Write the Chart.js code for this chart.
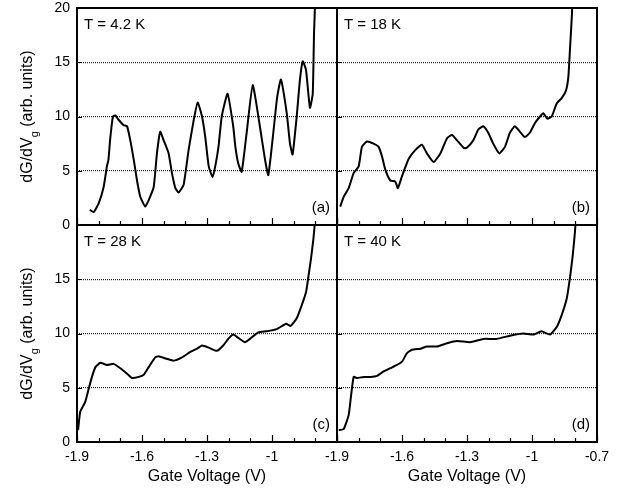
<!DOCTYPE html>
<html>
<head>
<meta charset="utf-8">
<script src="https://cdn.jsdelivr.net/npm/chart.js@4.4.1/dist/chart.umd.min.js"></script>
<style>
  html, body { margin: 0; padding: 0; background: #fff; }
  #wrap { position: relative; width: 623px; height: 489px; }
  #wrap canvas { position: absolute; left: 0; top: 0; }
</style>
</head>
<body>
<div id="wrap">
  <canvas id="panelA" width="623" height="489"></canvas>
  <canvas id="panelB" width="623" height="489"></canvas>
  <canvas id="panelC" width="623" height="489"></canvas>
  <canvas id="panelD" width="623" height="489"></canvas>
</div>
<script>
// gate voltage (V) and dG/dVg (arb. units)
const voltsA = [-1.841, -1.823, -1.800, -1.777, -1.762, -1.755, -1.746, -1.734, -1.723, -1.708, -1.685, -1.669,
  -1.654, -1.638, -1.623, -1.608, -1.585, -1.569, -1.546, -1.531, -1.516, -1.500, -1.477, -1.462, -1.446, -1.431,
  -1.408, -1.385, -1.361, -1.343, -1.323, -1.308, -1.292, -1.274, -1.262, -1.247, -1.232, -1.205, -1.179, -1.169,
  -1.156, -1.140, -1.117, -1.089, -1.056, -1.032, -1.017, -0.994, -0.976, -0.959, -0.932, -0.917, -0.905, -0.886,
  -0.871, -0.858, -0.843, -0.825, -0.812, -0.806, -0.800];
const dGA = [1.4, 1.2, 2.0, 3.5, 5.4, 6.0, 8.1, 10.0, 10.1, 9.7, 9.2, 9.1,
  7.8, 6.0, 4.1, 2.6, 1.7, 2.3, 3.5, 6.6, 8.6, 7.8, 6.6, 4.8, 3.4, 3.0,
  3.7, 6.9, 9.7, 11.3, 10.0, 8.1, 5.4, 4.4, 5.4, 7.2, 10.0, 12.1, 9.1, 7.2,
  5.7, 4.9, 8.5, 12.9, 9.1, 6.0, 4.6, 8.5, 11.8, 13.4, 10.3, 7.5, 6.5, 10.0,
  13.4, 15.1, 14.3, 10.8, 12.1, 17.7, 21];

const voltsB = [-1.885, -1.869, -1.846, -1.823, -1.800, -1.785, -1.762, -1.731, -1.708, -1.692, -1.677, -1.654,
  -1.631, -1.619, -1.600, -1.569, -1.539, -1.508, -1.485, -1.454, -1.423, -1.392, -1.369, -1.346, -1.315, -1.302,
  -1.271, -1.248, -1.225, -1.202, -1.179, -1.151, -1.125, -1.102, -1.079, -1.056, -1.033, -1.010, -0.986, -0.963,
  -0.948, -0.929, -0.909, -0.886, -0.863, -0.843, -0.832, -0.825, -0.817, -0.812];
const dGB = [1.7, 2.6, 3.4, 4.8, 5.4, 7.2, 7.7, 7.5, 7.2, 6.3, 5.1, 4.1,
  4.0, 3.4, 4.5, 6.1, 6.9, 7.4, 6.6, 5.8, 6.6, 8.0, 8.3, 7.8, 7.1, 7.1,
  7.8, 8.8, 9.1, 8.5, 7.5, 6.6, 7.2, 8.5, 9.1, 8.6, 8.1, 8.5, 9.4, 10.0,
  10.3, 9.8, 10.0, 11.2, 11.7, 12.4, 13.7, 16.1, 18.9, 21];

const voltsC = [-1.895, -1.885, -1.862, -1.846, -1.831, -1.815, -1.792, -1.762, -1.731, -1.700, -1.669, -1.646,
  -1.615, -1.592, -1.569, -1.539, -1.523, -1.492, -1.454, -1.415, -1.377, -1.346, -1.323, -1.292, -1.255, -1.225,
  -1.202, -1.179, -1.156, -1.125, -1.102, -1.063, -1.025, -0.978, -0.935, -0.914, -0.886, -0.863, -0.843, -0.833,
  -0.820, -0.809, -0.803, -0.800];
const dGC = [1.1, 2.8, 3.7, 4.9, 6.0, 6.9, 7.3, 7.1, 7.2, 6.8, 6.3, 5.9,
  6.0, 6.2, 6.9, 7.8, 7.9, 7.7, 7.5, 7.8, 8.3, 8.6, 8.9, 8.7, 8.4, 8.9,
  9.5, 9.9, 9.6, 9.2, 9.5, 10.1, 10.2, 10.4, 10.9, 10.7, 11.4, 12.6, 13.8, 15.1,
  16.9, 18.7, 20, 21];

const voltsD = [-1.892, -1.869, -1.846, -1.835, -1.823, -1.808, -1.777, -1.746, -1.715, -1.685, -1.654, -1.623,
  -1.600, -1.577, -1.554, -1.515, -1.485, -1.439, -1.392, -1.346, -1.286, -1.225, -1.163, -1.102, -1.040, -0.994,
  -0.956, -0.917, -0.886, -0.863, -0.840, -0.825, -0.812, -0.802, -0.796];
const dGD = [1.1, 1.2, 2.5, 4.3, 6.0, 5.9, 6.0, 6.0, 6.1, 6.5, 6.8, 7.1,
  7.4, 8.2, 8.5, 8.6, 8.8, 8.8, 9.1, 9.3, 9.2, 9.5, 9.5, 9.8, 10.0, 9.9,
  10.2, 9.9, 10.6, 11.7, 13.2, 15.1, 17.2, 19.3, 21];

// axis ticks
const xTickVals = [-1.9, -1.6, -1.3, -1.0, -0.7];
const xTickText = ['-1.9', '-1.6', '-1.3', '-1', '-0.7'];
const xMinorTicks = [-1.9, -1.8, -1.7, -1.6, -1.5, -1.4, -1.3, -1.2, -1.1, -1.0, -0.9, -0.8, -0.7];
const yTickVals = [0, 5, 10, 15, 20];
const yGridVals = [5, 10, 15];

const temps = ['T = 4.2 K', 'T = 18 K', 'T = 28 K', 'T = 40 K'];
const tags = ['(a)', '(b)', '(c)', '(d)'];

const FONT = '"Liberation Sans", Arial, Helvetica, sans-serif';
const W = 623, H = 489;

// frame, inward ticks, in-panel texts and the y title with its subscript
const panelDecor = {
  id: 'panelDecor',
  afterDraw(chart, args, opts) {
    const { ctx, chartArea: a, scales } = chart;
    ctx.save();
    ctx.setLineDash([]);
    ctx.strokeStyle = '#000';
    ctx.lineWidth = 1.2;
    ctx.beginPath();
    xMinorTicks.forEach((v, i) => {
      const px = Math.round(scales.x.getPixelForValue(v)) + 0.5;
      const len = i % 3 === 0 ? 7 : 4;
      ctx.moveTo(px, a.bottom);
      ctx.lineTo(px, a.bottom - len);
    });
    yGridVals.forEach(v => {
      const py = Math.round(scales.y.getPixelForValue(v)) + 0.5;
      ctx.moveTo(a.left, py);
      ctx.lineTo(a.left + 5, py);
    });
    ctx.stroke();

    // panel frame
    ctx.lineWidth = 2;
    ctx.strokeRect(a.left, a.top, a.right - a.left, a.bottom - a.top);

    ctx.fillStyle = '#000';
    ctx.font = '15px ' + FONT;
    ctx.textBaseline = 'alphabetic';
    ctx.textAlign = 'left';
    ctx.fillText(opts.temp, a.left + 7, a.top + 21);
    ctx.textAlign = 'right';
    ctx.fillText(opts.tag, a.right - 7, a.bottom - 13);

    if (opts.yTitle) {
      const cy = (a.top + a.bottom) / 2;
      const main = 'dG/dV', sub = 'g', rest = ' (arb. units)';
      ctx.font = '16px ' + FONT;
      const w1 = ctx.measureText(main).width;
      const w3 = ctx.measureText(rest).width;
      ctx.font = '11px ' + FONT;
      const w2 = ctx.measureText(sub).width;
      const total = w1 + w2 + w3;
      ctx.translate(32, cy);
      ctx.rotate(-Math.PI / 2);
      ctx.textAlign = 'left';
      const x0 = -total / 2;
      ctx.font = '16px ' + FONT;
      ctx.fillText(main, x0, 0);
      ctx.font = '11px ' + FONT;
      ctx.fillText(sub, x0 + w1, 6);
      ctx.font = '16px ' + FONT;
      ctx.fillText(rest, x0 + w1 + w2, 0);
    }
    ctx.restore();
  }
};

const panels = [
  { canvas: 'panelA', volts: voltsA, vals: dGA, area: [77, 8, 337, 225], left: true, bottom: false },
  { canvas: 'panelB', volts: voltsB, vals: dGB, area: [337, 8, 597, 225], left: false, bottom: false },
  { canvas: 'panelC', volts: voltsC, vals: dGC, area: [77, 225, 337, 442], left: true, bottom: true },
  { canvas: 'panelD', volts: voltsD, vals: dGD, area: [337, 225, 597, 442], left: false, bottom: true }
];

panels.forEach((p, idx) => {
  const [l, t, r, b] = p.area;
  const yW = p.left ? 77 : 0;
  const xH = p.bottom ? 47 : 0;
  const points = p.volts.map((v, i) => ({ x: v, y: p.vals[i] }));

  new Chart(document.getElementById(p.canvas).getContext('2d'), {
    type: 'line',
    data: {
      datasets: [{
        data: points,
        borderColor: '#000',
        borderWidth: 2,
        pointRadius: 0,
        tension: 0.15,
        fill: false
      }]
    },
    options: {
      responsive: false,
      animation: false,
      layout: {
        autoPadding: false,
        padding: { left: l - yW, top: t, right: W - r, bottom: H - b - xH }
      },
      plugins: {
        legend: { display: false },
        tooltip: { enabled: false },
        panelDecor: { temp: temps[idx], tag: tags[idx], yTitle: p.left }
      },
      scales: {
        x: {
          type: 'linear',
          min: -1.9,
          max: -0.7,
          afterBuildTicks: s => { s.ticks = xTickVals.map(v => ({ value: v })); },
          afterFit: s => { s.height = xH; s.paddingLeft = 0; s.paddingRight = 0; },
          grid: { display: false, drawTicks: false },
          border: { display: false },
          ticks: {
            display: p.bottom,
            autoSkip: false,
            maxRotation: 0,
            padding: 7,
            color: '#000',
            font: { family: FONT, size: 14 },
            callback: (v, i) => (p.left && i === xTickVals.length - 1) ? '' : xTickText[i]
          },
          title: {
            display: p.bottom,
            text: 'Gate Voltage (V)',
            color: '#000',
            font: { family: FONT, size: 16 },
            padding: { top: 0, bottom: 3 }
          }
        },
        y: {
          min: 0,
          max: 20,
          afterBuildTicks: s => { s.ticks = yTickVals.map(v => ({ value: v })); },
          afterFit: s => { s.width = yW; s.paddingTop = 0; s.paddingBottom = 0; },
          grid: {
            drawTicks: false,
            lineWidth: 1.2,
            color: c => (c.tick && yGridVals.includes(c.tick.value)) ? '#222' : 'rgba(0,0,0,0)'
          },
          border: { display: false, dash: [1, 1] },
          ticks: {
            display: p.left,
            padding: 7,
            color: '#000',
            font: { family: FONT, size: 14 },
            callback: v => (p.bottom && v === 20) ? '' : String(v)
          }
        }
      }
    },
    plugins: [panelDecor]
  });
});
</script>
</body>
</html>
